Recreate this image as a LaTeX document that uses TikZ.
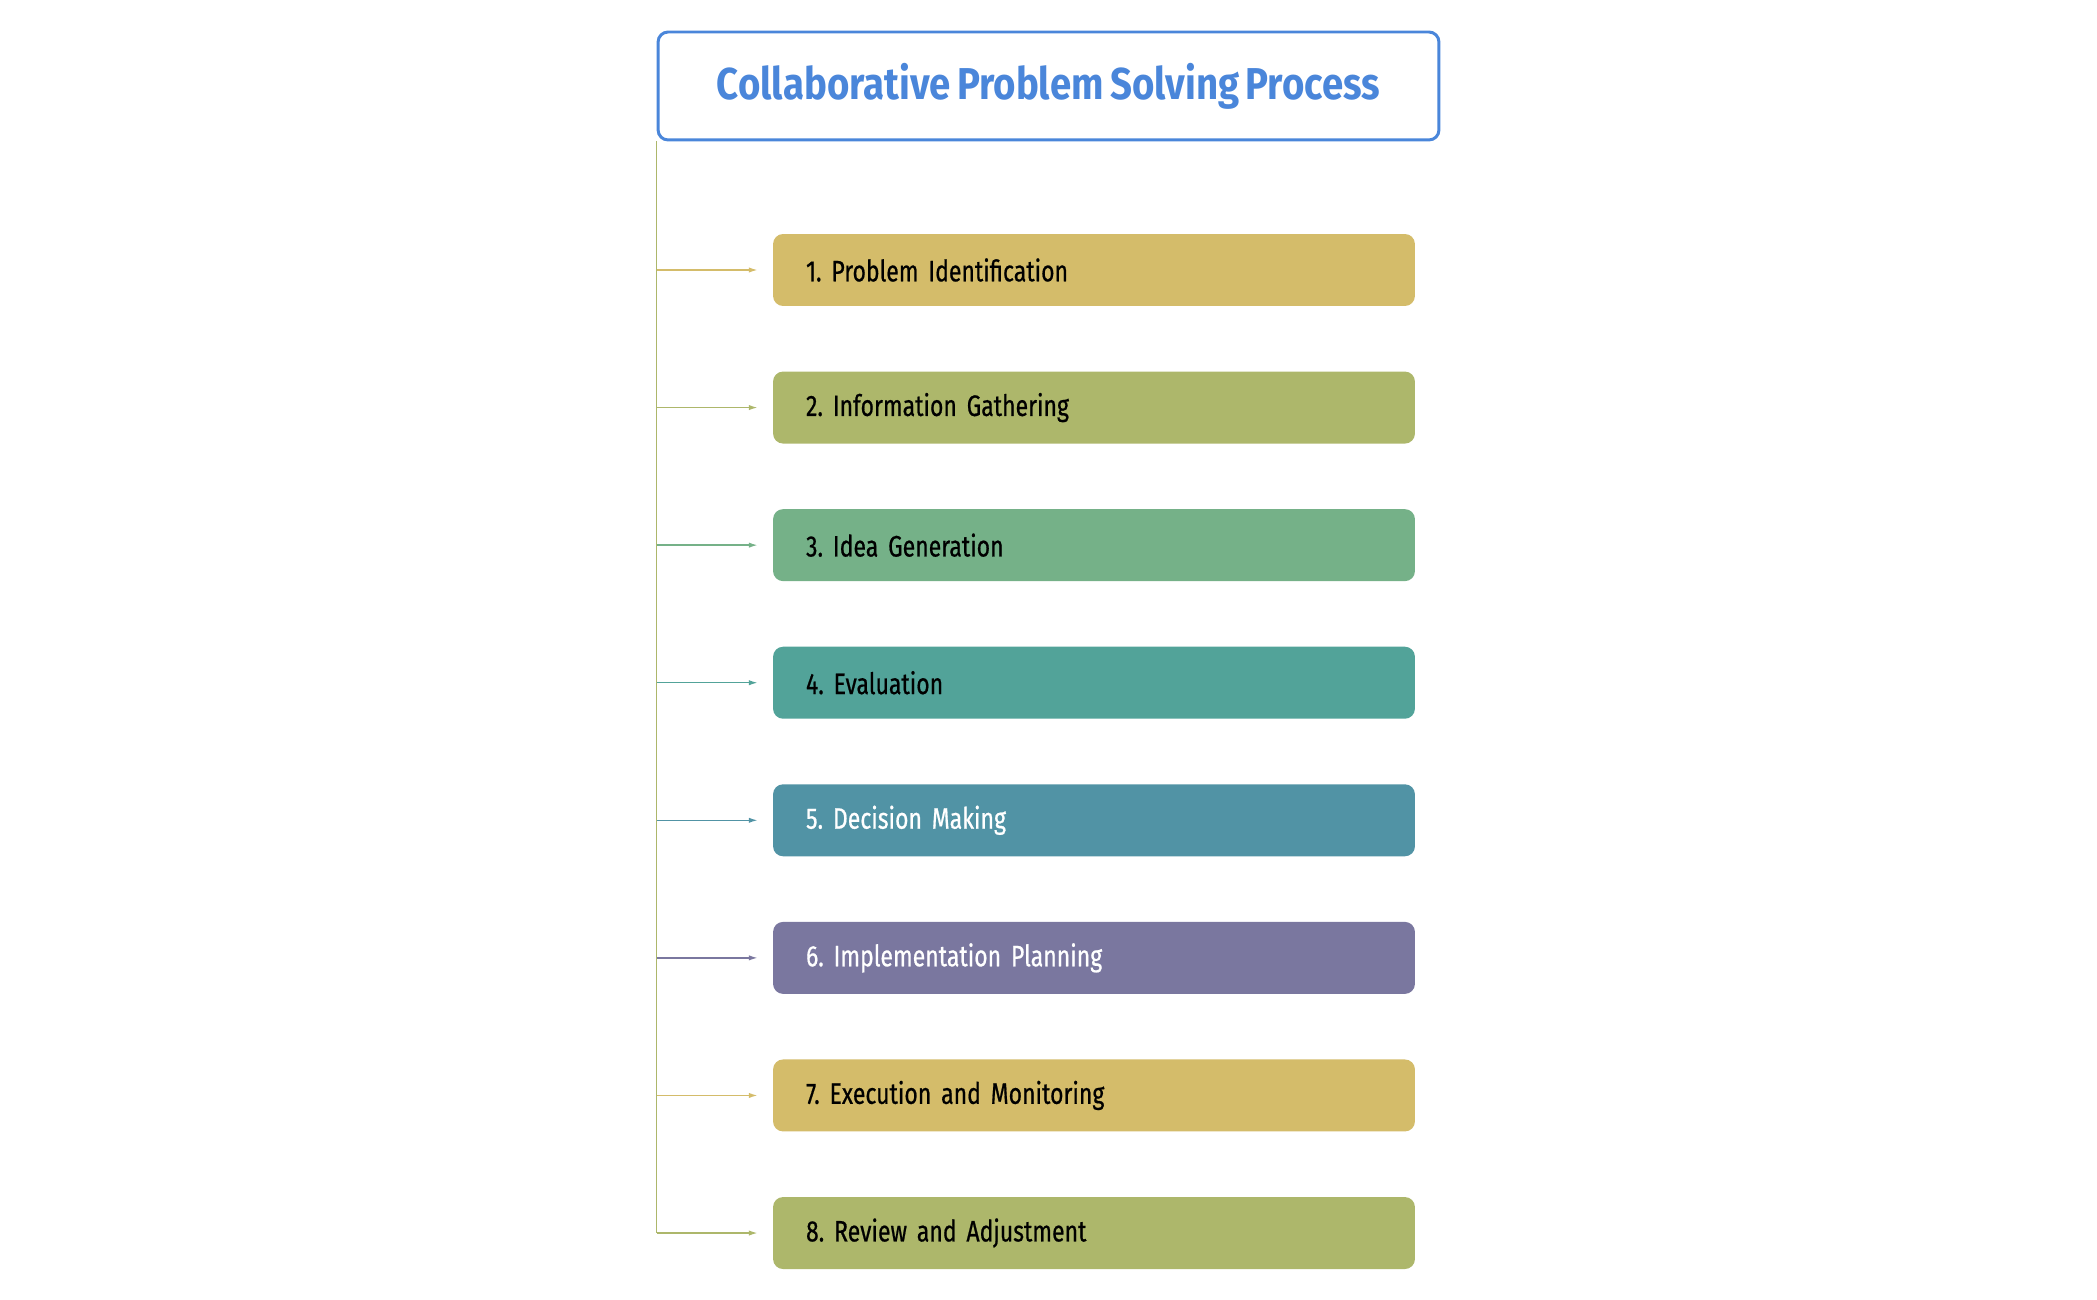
\documentclass[tikz,border=0pt]{standalone}
\usepackage{fontspec}
\setmainfont{Fira Sans}[FakeStretch=0.78,WordSpace=0.5,FakeBold=0.6]
\newfontfamily\titlefont{Fira Sans}[FakeStretch=0.86,WordSpace=0.7]
\usetikzlibrary{positioning,arrows.meta}

\definecolor{titleblue}{HTML}{4A86DA}
\definecolor{stepgold}{HTML}{D4BC6A}
\definecolor{stepolive}{HTML}{ADB76B}
\definecolor{stepgreen}{HTML}{75B188}
\definecolor{stepteal}{HTML}{52A399}
\definecolor{steppetrol}{HTML}{5193A5}
\definecolor{steppurple}{HTML}{7A779F}

\frenchspacing
\begin{document}
\begin{tikzpicture}
  [x=0.02cm,y=-0.02cm,
   every node/.style={inner sep=0pt},
   titlebox/.style={rectangle,
                    draw=titleblue,
                    line width=1.7pt,
                    rounded corners=0.2cm,
                    minimum width=15.62cm,
                    minimum height=2.16cm,
                    text=titleblue,
                    font=\titlefont\fontsize{25.4}{30}\selectfont\bfseries},
   stepbox/.style={rectangle,
                   rounded corners=0.2cm,
                   minimum width=12.84cm,
                   minimum height=1.44cm,
                   inner xsep=0.66cm,
                   text width=11.52cm,
                   align=left,
                   font=\fontsize{16.8}{20}\selectfont},
   node distance=1.298cm,
   link/.style={-{Latex[length=5pt,width=3pt]},line width=0.8pt}]
  \useasboundingbox (0,0) rectangle (2097,1300);

  \node[titlebox] (title) at (1048.5,86) {Collaborative Problem Solving Process};

  \node[stepbox,fill=stepgold] (s1) at (1094,270) {1. Problem Identification};
  \node[stepbox,fill=stepolive,below=of s1] (s2) {2. Information Gathering};
  \node[stepbox,fill=stepgreen,below=of s2] (s3) {3. Idea Generation};
  \node[stepbox,fill=stepteal,below=of s3] (s4) {4. Evaluation};
  \node[stepbox,fill=steppetrol,text=white,below=of s4] (s5) {5. Decision Making};
  \node[stepbox,fill=steppurple,text=white,below=of s5] (s6) {6. Implementation Planning};
  \node[stepbox,fill=stepgold,below=of s6] (s7) {7. Execution and Monitoring};
  \node[stepbox,fill=stepolive,below=of s7] (s8) {8. Review and Adjustment};

  % trunk line and branches
  \draw[stepolive,line width=0.8pt] (title.south west) -- (title.south west |- s8);
  \foreach \n/\c in {1/stepgold,2/stepolive,3/stepgreen,4/stepteal,
                     5/steppetrol,6/steppurple,7/stepgold,8/stepolive}
    \draw[link,\c] (title.south west |- s\n) -- ([xshift=-0.3cm]s\n.west);
\end{tikzpicture}
\end{document}
